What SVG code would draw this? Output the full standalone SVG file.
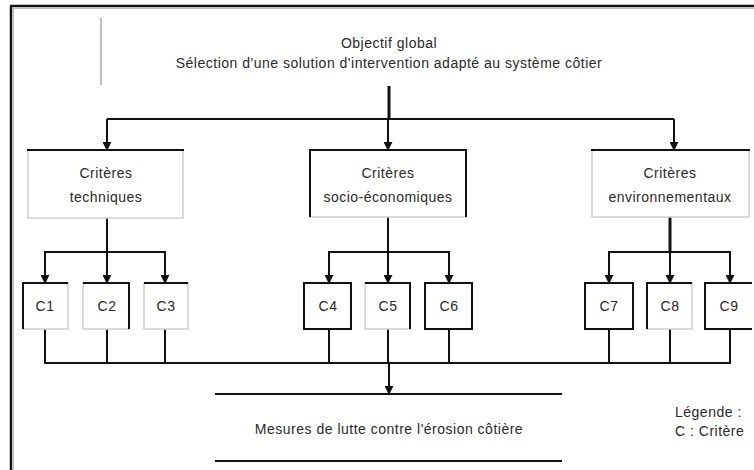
<svg xmlns="http://www.w3.org/2000/svg" width="754" height="470" viewBox="0 0 754 470">
<defs>
<marker id="ah" viewBox="0 0 10 10" refX="9" refY="5" markerWidth="9" markerHeight="9" markerUnits="userSpaceOnUse" orient="auto">
<path d="M0,0 L10,5 L0,10 z" fill="#111"/>
</marker>
</defs>
<style>
text{font-family:"Liberation Sans",Arial,sans-serif;font-size:14px;letter-spacing:0.5px;fill:#2a2a2a;text-anchor:middle}
.lt{fill:#fff;stroke:#cfcfcf;stroke-width:1.5}
.dk{stroke:#111;stroke-width:2;fill:none}
.th{stroke:#111;stroke-width:3;fill:none}
.cn{stroke:#111;stroke-width:2;fill:none}
.ar{stroke:#111;stroke-width:2;fill:none;marker-end:url(#ah)}
</style>
<rect width="754" height="470" fill="#fff"/>
<g id="frame">
<line x1="11" y1="6" x2="11" y2="470" stroke="#111" stroke-width="2.5"/>
<line x1="10" y1="6" x2="754" y2="6" stroke="#111" stroke-width="2.5"/>
<line x1="13" y1="8.5" x2="754" y2="8.5" stroke="#bbb" stroke-width="1"/>
<line x1="13.5" y1="8" x2="13.5" y2="470" stroke="#bbb" stroke-width="1"/>
</g>
<g id="objectif">
<line x1="101" y1="18" x2="101" y2="85" stroke="#aaa" stroke-width="1.5"/>
<text x="389" y="48">Objectif global</text>
<text x="389" y="68">Sélection d'une solution d'intervention adapté au système côtier</text>
</g>
<g id="connectors">
<line class="th" x1="389" y1="86" x2="389" y2="119"/>
<polyline class="cn" points="107,119 674,119"/>
<line class="ar" x1="107" y1="119" x2="107" y2="150"/>
<line class="ar" x1="388" y1="119" x2="388" y2="150"/>
<line class="ar" x1="674" y1="119" x2="674" y2="150"/>
<line class="cn" x1="107" y1="218" x2="107" y2="252"/>
<line class="cn" x1="45" y1="252" x2="165" y2="252"/>
<line class="ar" x1="45" y1="251" x2="45" y2="283"/>
<line class="ar" x1="107" y1="251" x2="107" y2="283"/>
<line class="ar" x1="165" y1="251" x2="165" y2="283"/>
<line class="cn" x1="388" y1="217" x2="388" y2="252"/>
<line class="cn" x1="329" y1="252" x2="449" y2="252"/>
<line class="ar" x1="329" y1="251" x2="329" y2="283"/>
<line class="ar" x1="388" y1="251" x2="388" y2="283"/>
<line class="ar" x1="449" y1="251" x2="449" y2="283"/>
<line class="th" x1="670" y1="217" x2="670" y2="252"/>
<line class="cn" x1="609" y1="252" x2="730" y2="252"/>
<line class="ar" x1="609" y1="251" x2="609" y2="283"/>
<line class="ar" x1="670" y1="251" x2="670" y2="283" stroke-width="3"/>
<line class="ar" x1="730" y1="251" x2="730" y2="283"/>
<path class="cn" d="M45,329V363M107,329V363M165,329V363M329,329V363M388,329V363M449,329V363M609,329V363M670,329V363M730,329V363M44,363H731"/>
<line class="ar" x1="389" y1="363" x2="389" y2="394"/>
</g>
<g id="crit-tech">
<rect class="lt" x="28" y="150" width="155" height="68"/>
<line class="dk" x1="27" y1="150" x2="184" y2="150"/>
<text x="106" y="178">Critères</text>
<text x="106" y="202">techniques</text>
</g>
<g id="crit-socio">
<rect class="lt" x="310" y="150" width="156" height="67"/>
<path class="dk" d="M310,217V150H466V217"/>
<text x="388" y="178">Critères</text>
<text x="388" y="202">socio-économiques</text>
</g>
<g id="crit-env">
<rect class="lt" x="592" y="150" width="157" height="67"/>
<line class="dk" x1="591" y1="150" x2="750" y2="150"/>
<text x="670" y="178">Critères</text>
<text x="670" y="202">environnementaux</text>
</g>
<g id="c1"><rect class="lt" x="23" y="283" width="45" height="46"/><path class="dk" d="M23,329V283H68"/><text x="45" y="311">C1</text></g>
<g id="c2"><rect class="lt" x="83" y="283" width="46" height="46"/><path class="dk" d="M83,283H129V329"/><text x="107" y="311">C2</text></g>
<g id="c3"><rect class="lt" x="144" y="283" width="44" height="46"/><path class="dk" d="M144,283H188"/><text x="166" y="311">C3</text></g>
<g id="c4"><rect class="dk" x="304" y="283" width="47" height="46"/><text x="328" y="311">C4</text></g>
<g id="c5"><rect class="lt" x="365" y="283" width="45" height="46"/><path class="dk" d="M365,283H410V329"/><text x="388" y="311">C5</text></g>
<g id="c6"><rect class="dk" x="425" y="283" width="47" height="46"/><text x="449" y="311">C6</text></g>
<g id="c7"><rect class="dk" x="585" y="283" width="48" height="46" stroke="#333"/><text x="609" y="311">C7</text></g>
<g id="c8"><rect class="lt" x="647" y="283" width="45" height="46"/><path class="dk" d="M647,329V283H692"/><text x="670" y="311">C8</text></g>
<g id="c9"><path class="dk" d="M752,283H705V329H752"/><text x="729" y="311">C9</text></g>
<g id="mesures">
<line class="dk" x1="215" y1="394" x2="562" y2="394"/>
<line class="dk" x1="215" y1="461" x2="562" y2="461"/>
<text x="389" y="434">Mesures de lutte contre l'érosion côtière</text>
</g>
<g id="legende">
<text x="675" y="417" style="text-anchor:start">Légende :</text>
<text x="675" y="436" style="text-anchor:start">C : Critère</text>
</g>
</svg>
